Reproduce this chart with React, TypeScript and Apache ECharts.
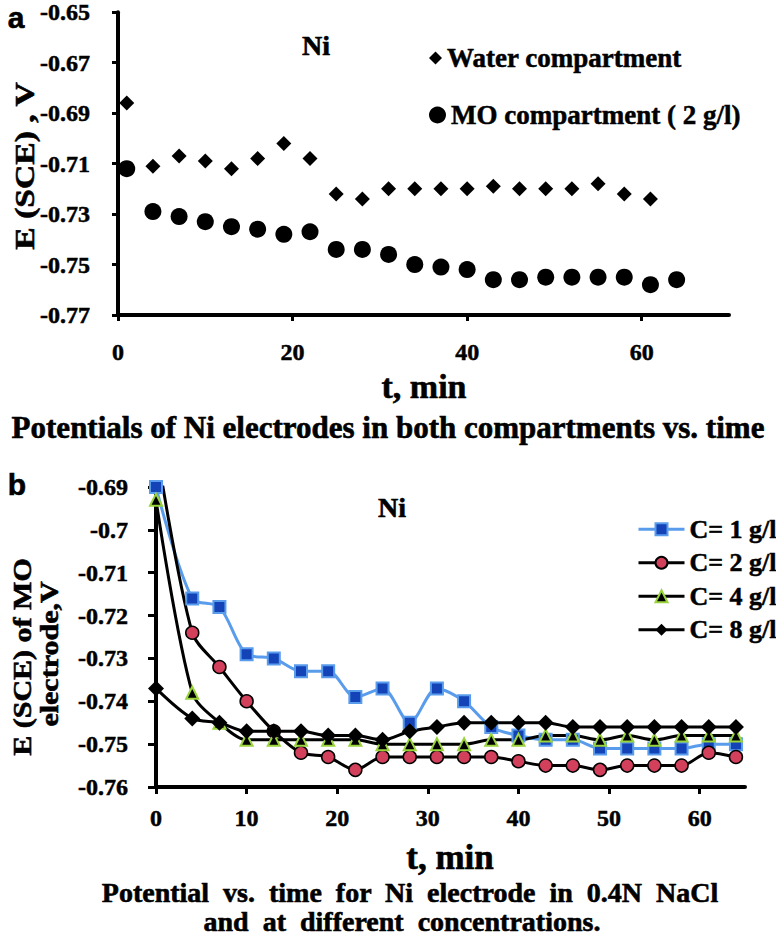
import React, { useEffect, useRef } from "react";
import * as echarts from "echarts";

// ---- Panel a: potentials in both compartments ----
const waterT = [1, 4, 7, 10, 13, 16, 19, 22, 25, 28, 31, 34, 37, 40, 43, 46, 49, 52, 55, 58, 61];
const waterE = [-0.686, -0.711, -0.707, -0.709, -0.712, -0.708, -0.702, -0.708, -0.722, -0.724, -0.72, -0.72, -0.72, -0.72, -0.719, -0.72, -0.72, -0.72, -0.718, -0.722, -0.724];
const moT = [1, 4, 7, 10, 13, 16, 19, 22, 25, 28, 31, 34, 37, 40, 43, 46, 49, 52, 55, 58, 61, 64];
const moE = [-0.712, -0.729, -0.731, -0.733, -0.735, -0.736, -0.738, -0.737, -0.744, -0.744, -0.746, -0.75, -0.751, -0.752, -0.756, -0.756, -0.755, -0.755, -0.755, -0.755, -0.758, -0.756];
const topYTicks = [-0.77, -0.75, -0.73, -0.71, -0.69, -0.67, -0.65];
const topXTicks = [0, 20, 40, 60];

// ---- Panel b: MO electrode at different concentrations ----
const timeB = [0, 4, 7, 10, 13, 16, 19, 22, 25, 28, 31, 34, 37, 40, 43, 46, 49, 52, 55, 58, 61, 64];
const c1 = [-0.69, -0.716, -0.718, -0.729, -0.73, -0.733, -0.733, -0.739, -0.737, -0.745, -0.737, -0.74, -0.746, -0.748, -0.749, -0.749, -0.751, -0.751, -0.751, -0.751, -0.75, -0.75];
const c2 = [-0.68, -0.724, -0.732, -0.74, -0.747, -0.752, -0.753, -0.756, -0.753, -0.753, -0.753, -0.753, -0.753, -0.754, -0.755, -0.755, -0.756, -0.755, -0.755, -0.755, -0.752, -0.753];
const c4 = [-0.693, -0.738, -0.745, -0.749, -0.749, -0.749, -0.749, -0.749, -0.75, -0.75, -0.75, -0.75, -0.749, -0.749, -0.748, -0.748, -0.749, -0.748, -0.749, -0.748, -0.748, -0.748];
const c8 = [-0.737, -0.744, -0.745, -0.747, -0.747, -0.747, -0.748, -0.748, -0.749, -0.747, -0.746, -0.745, -0.745, -0.745, -0.745, -0.746, -0.746, -0.746, -0.746, -0.746, -0.746, -0.746];
const bottomXTicks = [0, 10, 20, 30, 40, 50, 60];
const seriesNamesB = ["C= 1 g/l", "C= 2 g/l", "C= 4 g/l", "C= 8 g/l"];

const SERIF = "Liberation Serif";
const SANS = "Liberation Sans";

const pairs = (xs: number[], ys: number[]) => xs.map((x, i) => [x, ys[i]]);

function txt(text: string, x: number, y: number, size: number, opts: any = {}) {
  return {
    type: "text",
    x,
    y,
    rotation: opts.rotation || 0,
    scaleX: opts.scaleX || 1,
    scaleY: opts.scaleY || 1,
    style: {
      text,
      fontSize: size,
      fontWeight: "bold",
      fontFamily: opts.family || SERIF,
      fill: "#000",
      stroke: "#000",
      lineWidth: 0.6,
      align: "center",
      verticalAlign: "middle",
      textAlign: "center",
      textVerticalAlign: "middle",
    },
  };
}

const axisLabelStyle = {
  color: "#000",
  fontFamily: SERIF,
  fontWeight: "bold" as const,
  fontSize: 24,
  textBorderColor: "#000",
  textBorderWidth: 0.5,
};

export default function App() {
  const ref = useRef<HTMLDivElement>(null);
  useEffect(() => {
    const chart = echarts.init(ref.current!, null, { renderer: "svg" });
    const axisLine = { show: true, onZero: false, lineStyle: { color: "#000", width: 4 } };
    const legendText = {
      color: "#000",
      fontFamily: SERIF,
      fontWeight: "bold",
      fontSize: 27,
      lineHeight: 28,
      textBorderColor: "#000",
      textBorderWidth: 0.5,
    };
    const option: any = {
      animation: false,
      backgroundColor: "#fff",
      grid: [
        { left: 118, top: 10, width: 611, height: 305 },
        { left: 156, top: 487, width: 589, height: 300 },
      ],
      xAxis: [
        {
          gridIndex: 0,
          type: "value",
          min: 0,
          max: 70,
          axisLine,
          axisTick: { show: true, length: 6, lineStyle: { width: 3, color: "#000" }, customValues: topXTicks },
          axisLabel: { ...axisLabelStyle, margin: 25, customValues: topXTicks },
          splitLine: { show: false },
        },
        {
          gridIndex: 1,
          type: "value",
          min: 0,
          max: 65,
          axisLine,
          axisTick: { show: true, length: 7, lineStyle: { width: 3, color: "#000" }, customValues: bottomXTicks },
          axisLabel: { ...axisLabelStyle, margin: 19, customValues: bottomXTicks },
          splitLine: { show: false },
        },
      ],
      yAxis: [
        {
          gridIndex: 0,
          type: "value",
          min: -0.77,
          max: -0.65,
          axisLine,
          axisTick: { show: true, length: 6, lineStyle: { width: 3, color: "#000" }, customValues: topYTicks },
          axisLabel: {
            ...axisLabelStyle,
            margin: 28,
            customValues: topYTicks,
            formatter: (v: number) => v.toFixed(2),
          },
          splitLine: { show: false },
        },
        {
          gridIndex: 1,
          type: "value",
          min: -0.76,
          max: -0.69,
          interval: 0.01,
          axisLine,
          axisTick: { show: true, length: 8, lineStyle: { width: 3, color: "#000" } },
          axisLabel: {
            ...axisLabelStyle,
            margin: 28,
            formatter: (v: number) => String(Number(v.toFixed(2))),
          },
          splitLine: { show: false },
        },
      ],
      legend: [
        {
          data: ["Water compartment"],
          orient: "vertical",
          left: 424,
          top: 39,
          itemWidth: 13,
          itemHeight: 13,
          textStyle: legendText,
        },
        {
          data: ["MO compartment ( 2 g/l)"],
          orient: "vertical",
          left: 424,
          top: 96,
          itemWidth: 17,
          itemHeight: 17,
          textStyle: legendText,
        },
        {
          data: seriesNamesB,
          orient: "vertical",
          left: 632,
          top: 511,
          itemWidth: 46,
          itemHeight: 15,
          itemGap: 7,
          lineStyle: { width: 3 },
          textStyle: { ...legendText, fontSize: 26, lineHeight: 26 },
        },
      ],
      series: [
        {
          name: "Water compartment",
          type: "scatter",
          xAxisIndex: 0,
          yAxisIndex: 0,
          symbol: "diamond",
          symbolSize: [15, 15],
          itemStyle: { color: "#000", opacity: 1 },
          data: pairs(waterT, waterE),
        },
        {
          name: "MO compartment ( 2 g/l)",
          type: "scatter",
          xAxisIndex: 0,
          yAxisIndex: 0,
          symbol: "circle",
          symbolSize: 17,
          itemStyle: { color: "#000", opacity: 1 },
          data: pairs(moT, moE),
        },
        {
          name: seriesNamesB[0],
          type: "line",
          xAxisIndex: 1,
          yAxisIndex: 1,
          smooth: 0.3,
          clip: true,
          symbol: "rect",
          symbolSize: 12,
          lineStyle: { color: "#5a9cec", width: 3 },
          itemStyle: { color: "#1443b8", borderColor: "#5a9cec", borderWidth: 2 },
          data: pairs(timeB, c1),
        },
        {
          name: seriesNamesB[1],
          type: "line",
          xAxisIndex: 1,
          yAxisIndex: 1,
          smooth: 0.3,
          clip: true,
          symbol: "circle",
          symbolSize: 13,
          lineStyle: { color: "#000", width: 3 },
          itemStyle: { color: "#d2405c", borderColor: "#000", borderWidth: 1.5 },
          data: pairs(timeB, c2),
        },
        {
          name: seriesNamesB[2],
          type: "line",
          xAxisIndex: 1,
          yAxisIndex: 1,
          smooth: 0.3,
          clip: true,
          symbol: "triangle",
          symbolSize: 12,
          lineStyle: { color: "#000", width: 3 },
          itemStyle: { color: "#000", borderColor: "#9ad43c", borderWidth: 2 },
          data: pairs(timeB, c4),
        },
        {
          name: seriesNamesB[3],
          type: "line",
          xAxisIndex: 1,
          yAxisIndex: 1,
          smooth: 0.3,
          clip: true,
          symbol: "diamond",
          symbolSize: 16,
          lineStyle: { color: "#000", width: 3 },
          itemStyle: { color: "#000" },
          data: pairs(timeB, c8),
        },
      ],
      graphic: [
        txt("a", 16, 17, 30, { family: SANS }),
        txt("b", 17, 484, 30, { family: SANS }),
        txt("Ni", 316, 45, 28),
        txt("Ni", 392, 507, 28),
        txt("E (SCE) , V", 24, 166, 28, { rotation: Math.PI / 2, scaleX: 1.2 }),
        txt("E (SCE) of MO", 22, 657, 25, { rotation: Math.PI / 2, scaleX: 1.2 }),
        txt("electrode,V", 49, 654, 25, { rotation: Math.PI / 2, scaleX: 1.2 }),
        txt("t, min", 424, 386, 34),
        txt("t, min", 450, 857, 35),
        txt("Potentials of Ni electrodes in both compartments vs. time", 388, 427, 31),
        txt("Potential  vs.  time  for  Ni  electrode  in  0.4N  NaCl", 410, 892, 28),
        txt("and  at  different  concentrations.", 402, 921, 28),
      ],
    };
    chart.setOption(option);
    return () => chart.dispose();
  }, []);
  return (
    <div
      ref={ref}
      style={{ position: "absolute", left: 0, top: 0, width: 776, height: 935, background: "#fff" }}
    />
  );
}
